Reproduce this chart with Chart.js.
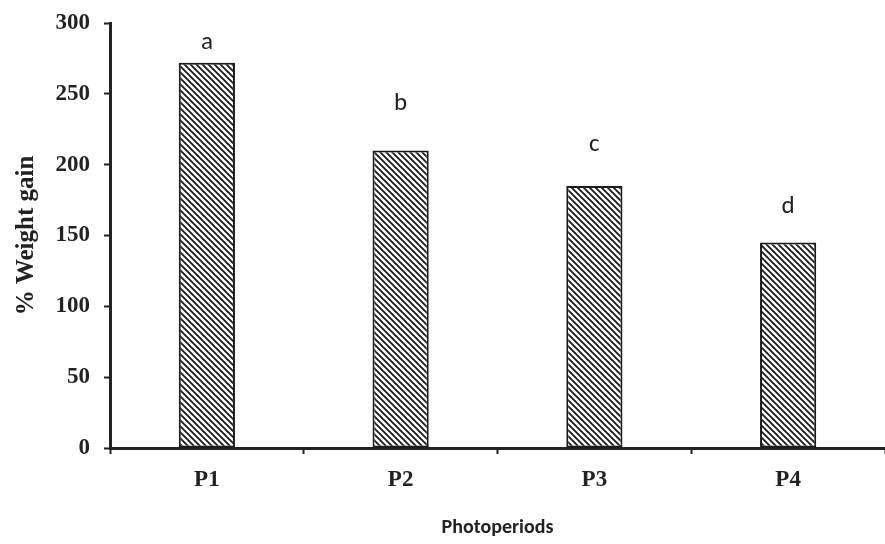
<!DOCTYPE html>
<html>
<head>
<meta charset="utf-8">
<script src="https://cdn.jsdelivr.net/npm/chart.js@4"></script>
<style>
  html, body { margin: 0; padding: 0; background: #fff; }
  #wrap { width: 885px; height: 544px; }
</style>
</head>
<body>
<div id="wrap"><canvas id="chart" width="885" height="544"></canvas></div>
<script>
// Dati
const periods = ['P1', 'P2', 'P3', 'P4'];
const weightGain = [272, 210, 185, 145];
const letters = ['a', 'b', 'c', 'd'];
const letterAt = [286, 243, 214, 170]; // altezza delle lettere (in unità dell'asse)
const yTicks = [0, 50, 100, 150, 200, 250, 300];

// Motivo a righe diagonali per le barre
function makeHatch() {
    const c = document.createElement('canvas');
    c.width = 6; c.height = 6;
    const g = c.getContext('2d');
    g.fillStyle = '#fff';
    g.fillRect(0, 0, 6, 6);
    g.strokeStyle = '#1a1a1a';
    g.lineWidth = 1.8;
    g.beginPath();
    g.moveTo(-1, -1); g.lineTo(7, 7);
    g.moveTo(-4, 2); g.lineTo(4, 10);
    g.moveTo(2, -4); g.lineTo(10, 4);
    g.stroke();
    return g.createPattern(c, 'repeat');
}

// Lettere sopra le barre
const letterPlugin = {
    id: 'letters',
    afterDatasetsDraw(chart) {
        const ctx = chart.ctx;
        const meta = chart.getDatasetMeta(0);
        const y = chart.scales.y;
        ctx.save();
        ctx.font = '25px Carlito, "Liberation Sans", sans-serif';
        ctx.fillStyle = '#222';
        ctx.textAlign = 'center';
        ctx.textBaseline = 'middle';
        meta.data.forEach((bar, i) => {
            ctx.fillText(letters[i], bar.x, y.getPixelForValue(letterAt[i]));
        });
        ctx.restore();
    }
};

window.onload = () => {
    const ctx = document.getElementById('chart').getContext('2d');
    new Chart(ctx, {
        type: 'bar',
        data: {
            labels: periods,
            datasets: [{
                data: weightGain,
                backgroundColor: makeHatch(),
                borderColor: '#1a1a1a',
                borderWidth: 2,
                borderSkipped: false,
                categoryPercentage: 1,
                barPercentage: 0.29
            }]
        },
        options: {
            responsive: false,
            animation: false,
            layout: { padding: { top: 23, right: 0, bottom: 4, left: 12 } },
            plugins: {
                legend: { display: false },
                tooltip: { enabled: false }
            },
            scales: {
                x: {
                    afterFit(scale) { scale.height = 92; },
                    grid: {
                        offset: true,
                        drawOnChartArea: false,
                        drawTicks: true,
                        tickLength: 6,
                        tickWidth: 2,
                        tickColor: '#222'
                    },
                    border: { display: true, width: 3, color: '#222' },
                    ticks: {
                        color: '#222',
                        padding: 12,
                        font: { family: '"Liberation Serif", serif', size: 23, weight: 'bold' }
                    },
                    title: {
                        display: true,
                        text: 'Photoperiods',
                        color: '#222',
                        padding: { top: 16, bottom: 0 },
                        font: { family: 'Carlito, "Liberation Sans", sans-serif', size: 20, weight: 'bold' }
                    }
                },
                y: {
                    min: 0,
                    max: 300,
                    afterBuildTicks(scale) {
                        scale.ticks = yTicks.map(v => ({ value: v }));
                    },
                    afterFit(scale) {
                        scale.width = 98;
                        scale.paddingTop = 0;
                        scale.paddingBottom = 0;
                    },
                    grid: {
                        drawOnChartArea: false,
                        drawTicks: true,
                        tickLength: 6,
                        tickWidth: 2,
                        tickColor: '#222'
                    },
                    border: { display: true, width: 3, color: '#222' },
                    ticks: {
                        color: '#222',
                        padding: 14,
                        font: { family: '"Liberation Serif", serif', size: 23, weight: 'bold' }
                    },
                    title: {
                        display: true,
                        text: '% Weight gain',
                        color: '#222',
                        padding: { top: 0, bottom: 2 },
                        font: { family: '"Liberation Serif", serif', size: 25, weight: 'bold' }
                    }
                }
            }
        },
        plugins: [letterPlugin]
    });
};
</script>
</body>
</html>
